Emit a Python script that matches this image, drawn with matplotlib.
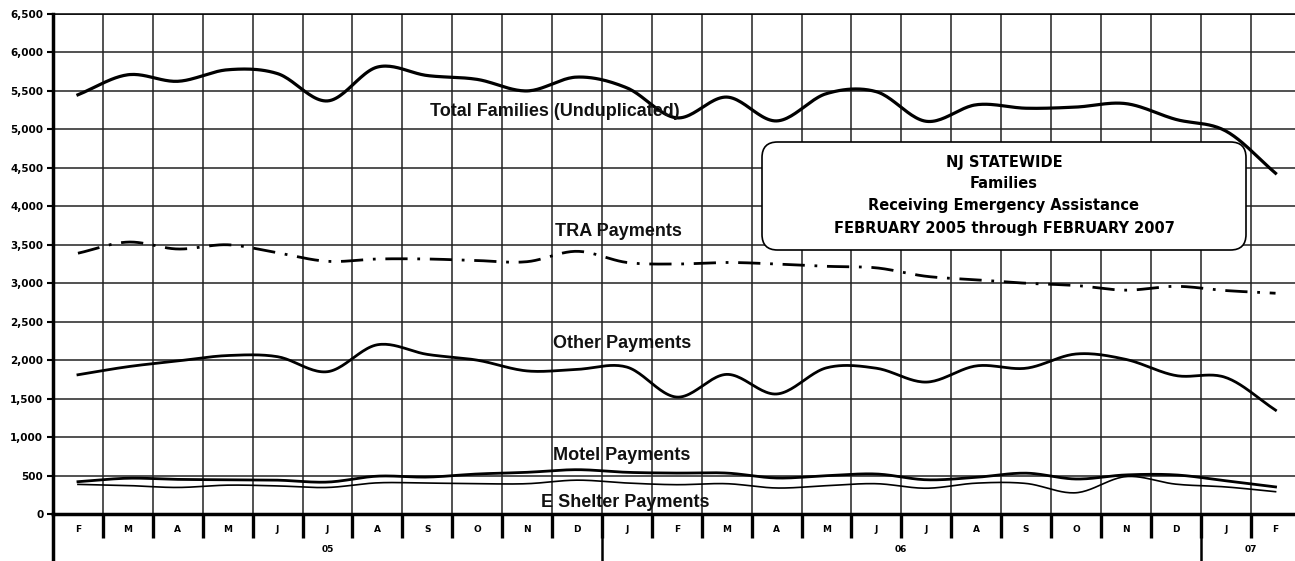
import numpy as np
import matplotlib
matplotlib.use("Agg")
import matplotlib.pyplot as plt
import matplotlib.patches as mpatches

# ---------------------------------------------------------------
# dados
# ---------------------------------------------------------------
months = ["F", "M", "A", "M", "J", "J", "A", "S", "O", "N", "D",
          "J", "F", "M", "A", "M", "J", "J", "A", "S", "O", "N", "D",
          "J", "F"]
years = ["05", "06", "07"]
year_first = [0, 11, 23]       # primeiro mês de cada ano
year_last = [10, 22, 24]       # último mês de cada ano

total = [5450, 5710, 5625, 5775, 5725, 5370, 5810, 5700, 5650, 5500, 5680,
         5540, 5150, 5420, 5110, 5465, 5490, 5105, 5320, 5275, 5290, 5335,
         5130, 4980, 4430]
tra = [3390, 3535, 3445, 3500, 3395, 3285, 3315, 3315, 3295, 3280, 3415,
       3270, 3250, 3270, 3250, 3220, 3200, 3090, 3045, 3000, 2970, 2910,
       2960, 2905, 2870]
other = [1810, 1915, 1990, 2060, 2045, 1850, 2200, 2075, 2000, 1860, 1880,
         1910, 1520, 1815, 1560, 1900, 1895, 1715, 1925, 1895, 2080, 2010,
         1800, 1775, 1350]
motel = [420, 465, 450, 445, 440, 415, 492, 480, 520, 542, 576,
         542, 532, 532, 468, 498, 520, 445, 477, 531, 455, 508,
         508, 432, 352]
shelter = [385, 370, 345, 375, 365, 345, 405, 402, 394, 394, 440,
           403, 381, 394, 338, 368, 394, 335, 401, 397, 276, 486,
           388, 352, 290]

series_labels = ["Total Families (Unduplicated)", "TRA Payments",
                 "Other Payments", "Motel Payments", "E Shelter Payments"]
box_lines = ["NJ STATEWIDE", "Families", "Receiving Emergency Assistance",
             "FEBRUARY 2005 through FEBRUARY 2007"]


def smooth(y, n=24):
    # curva suavizada (hermite / catmull-rom) passando pelos pontos
    y = np.asarray(y, float)
    m = np.gradient(y)
    t = np.linspace(0, 1, n, endpoint=False)
    h00 = 2 * t**3 - 3 * t**2 + 1
    h10 = t**3 - 2 * t**2 + t
    h01 = -2 * t**3 + 3 * t**2
    h11 = t**3 - t**2
    xs, ys = [], []
    for i in range(len(y) - 1):
        xs.append(i + t)
        ys.append(h00 * y[i] + h10 * m[i] + h01 * y[i + 1] + h11 * m[i + 1])
    xs.append([len(y) - 1])
    ys.append([y[-1]])
    return np.concatenate(xs), np.concatenate(ys)


W, H = 1295, 561
fig = plt.figure(figsize=(W / 100, H / 100), dpi=100)
ax = fig.add_axes([53 / W, 47 / H, 1247.5 / W, 500 / H])

x = np.arange(len(months))
ax.set_xlim(-0.5, len(months) - 0.5)
ax.set_ylim(0, 6500)

# grade
ax.set_yticks(np.arange(0, 6501, 500))
ax.set_yticklabels([f"{v:,}" for v in range(0, 6501, 500)],
                   fontsize=7.5, fontweight="bold", family="DejaVu Sans")
ax.set_xticks(x)
ax.set_xticklabels(months, fontsize=6.5, fontweight="bold", family="DejaVu Sans")
ax.set_xticks(np.arange(0.5, len(months) - 1, 1), minor=True)
ax.tick_params(axis="x", which="major", length=0, pad=8)
ax.tick_params(axis="x", which="minor", length=17, width=2.4, direction="out")
ax.tick_params(axis="y", length=4, width=1.5, pad=3)
ax.grid(axis="y", which="major", color="#222222", linewidth=1.1)
ax.grid(axis="x", which="minor", color="#222222", linewidth=1.1)
ax.set_axisbelow(True)

ax.spines["right"].set_visible(False)
ax.spines["top"].set_linewidth(1.1)
ax.spines["left"].set_linewidth(2.5)
ax.spines["bottom"].set_linewidth(2.5)

# linhas das séries
sx, sy = smooth(total)
ax.plot(sx, sy, color="black", lw=2.3, zorder=3)
sx, sy = smooth(tra)
ax.plot(sx, sy, color="black", lw=2.0, linestyle=(0, (8, 3.5, 1, 3.5)), zorder=3)
sx, sy = smooth(other)
ax.plot(sx, sy, color="black", lw=2.0, zorder=3)
sx, sy = smooth(motel)
ax.plot(sx, sy, color="black", lw=2.0, zorder=3)
sx, sy = smooth(shelter)
ax.plot(sx, sy, color="black", lw=1.2, zorder=3)

# rótulos das séries
label_pos = [(7.05, 5230), (9.56, 3670), (9.52, 2210), (9.52, 760), (9.28, 150)]
for txt, (lx, ly) in zip(series_labels, label_pos):
    ax.text(lx, ly, txt, ha="left", va="center", fontsize=13,
            fontweight="bold", family="Liberation Sans", color="#111111",
            zorder=4)

# linha dos anos abaixo dos meses
tr = ax.get_xaxis_transform()
for f, l, yr in zip(year_first, year_last, years):
    ax.text((f + l) / 2, -0.072, yr, transform=tr, ha="center", va="center",
            fontsize=6.5, fontweight="bold", family="DejaVu Sans")
for f in [-0.5] + [v - 0.5 for v in year_first[1:]]:
    ax.plot([f, f], [0, -0.1], transform=tr, color="black",
            lw=2.5 if f < 0 else 1.8, clip_on=False)

# caixa do título
box = mpatches.FancyBboxPatch((762 / W, 1 - 250 / H), 484 / W, 108 / H,
                              boxstyle="round,pad=0,rounding_size=0.012",
                              mutation_aspect=W / H, transform=fig.transFigure,
                              facecolor="white", edgecolor="black", lw=1.2,
                              zorder=5)
fig.patches.append(box)
for txt, yc in zip(box_lines, [162, 183, 205, 228]):
    fig.text(1004 / W, 1 - yc / H, txt, ha="center", va="center",
             fontsize=10.5, fontweight="heavy", family="DejaVu Sans", zorder=6)

fig.savefig("out.png", dpi=100)
